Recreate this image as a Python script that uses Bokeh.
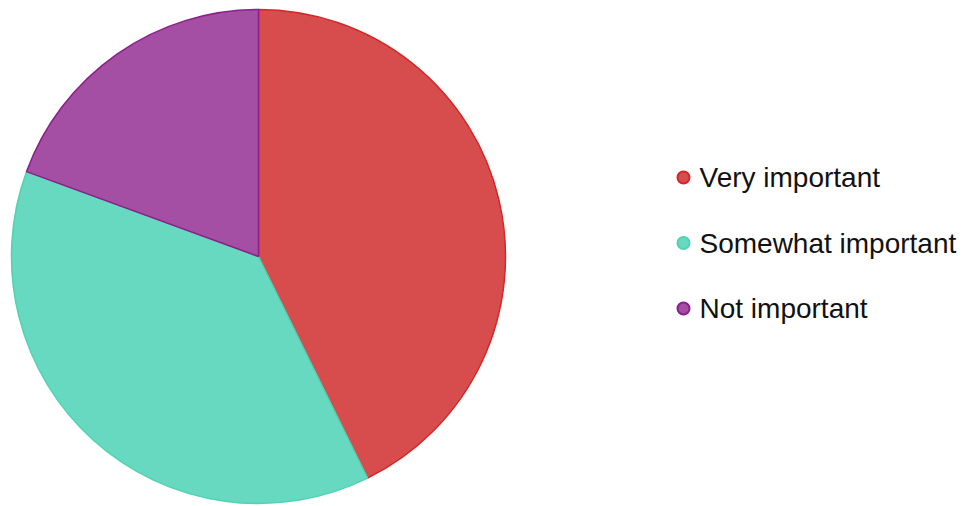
import numpy as np
from bokeh.plotting import figure
from bokeh.models import ColumnDataSource, Range1d
from bokeh.core.properties import value
from bokeh.embed import file_html
from bokeh.resources import INLINE

labels = ["Very important", "Somewhat important", "Not important"]
values = [44, 39, 20]
fills = ["#d74c4c", "#67d9c0", "#a44ea4"]
strokes = ["#d62728", "#4fd3b3", "#8b1f8b"]

W, H = 966, 506
p = figure(width=W, height=H, output_backend="svg", toolbar_location=None,
           x_range=Range1d(0, W), y_range=Range1d(0, H), min_border=0)
p.axis.visible = False
p.grid.visible = False
p.outline_line_color = None
p.background_fill_color = None
p.border_fill_color = None

vals = np.array(values, dtype=float)
frac = vals / vals.sum()
cum = np.concatenate([[0], np.cumsum(frac)])
start = np.pi / 2 - cum[:-1] * 2 * np.pi
end = np.pi / 2 - cum[1:] * 2 * np.pi

cx, cy, r = 258, 250, 247
src = ColumnDataSource(dict(start=start, end=end, fill=fills, line=strokes))
p.wedge(x=cx, y=cy, radius=r, start_angle="start", end_angle="end",
        direction="clock", fill_color="fill", line_color="line",
        line_width=1.5, source=src)

# legend
ly = [329 - i * 65.5 for i in range(len(labels))]
lsrc = ColumnDataSource(dict(x=[683] * len(labels), tx=[699] * len(labels), y=ly,
                             label=labels, fill=fills, line=strokes))
p.scatter(x="x", y="y", size=12, marker="circle", fill_color="fill",
          line_color="line", line_width=2, source=lsrc)
p.text(x="tx", y="y", text="label", text_font=value("Liberation Sans"),
       text_font_size="28px", text_baseline="middle", text_align="left",
       text_color="#111111", source=lsrc)

open("out.html", "w").write(file_html(p, INLINE))
